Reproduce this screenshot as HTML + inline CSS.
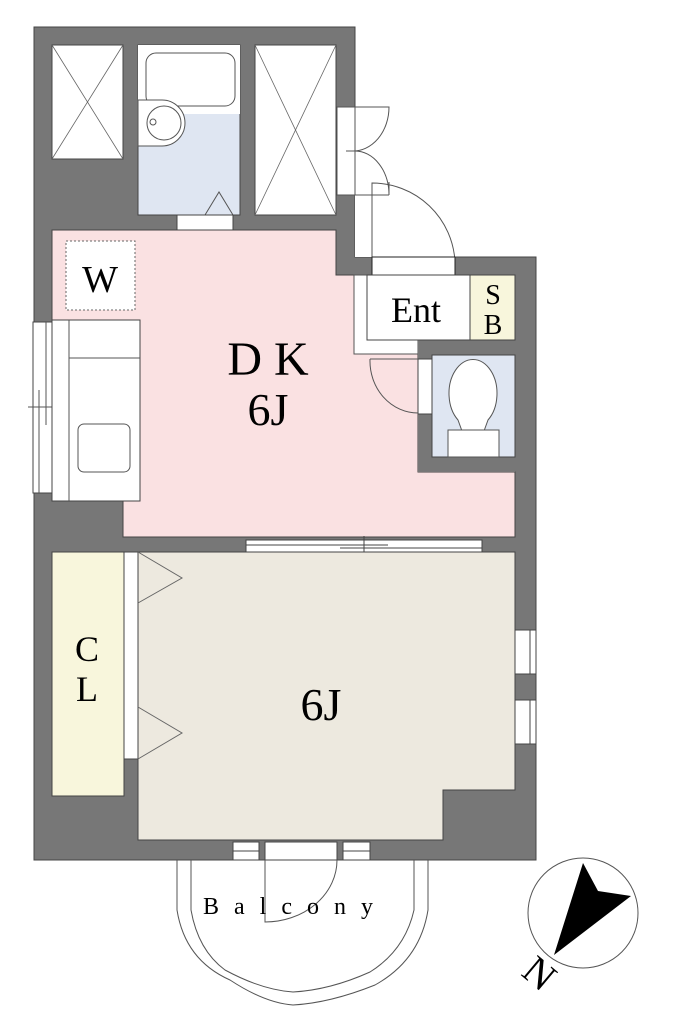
<!DOCTYPE html>
<html><head><meta charset="utf-8"><style>html,body{margin:0;padding:0;background:#fff}svg{display:block}</style></head>
<body>
<svg width="685" height="1024" viewBox="0 0 685 1024" xmlns="http://www.w3.org/2000/svg" font-family="Liberation Serif, serif">
<polygon points="34,27 355,27 355,257 536,257 536,860 34,860" fill="#777" stroke="#444" stroke-width="1"/>
<rect x="355" y="195" width="100" height="62" fill="#fff"/>
<rect x="337" y="107" width="18" height="88" fill="#fff" stroke="#555" stroke-width="1"/>
<path d="M355,107 L389,107 A36,44 0 0 1 352,151 M346,151 L355,151 A34,44 0 0 1 389,195 L389,182 M355,195 L389,195" fill="none" stroke="#555" stroke-width="1"/>
<path d="M372,257 L372,183 A83,83 0 0 1 455,262" fill="none" stroke="#555" stroke-width="1"/>
<rect x="372" y="257" width="83" height="18" fill="#fff" stroke="#222" stroke-width="1"/>
<rect x="52" y="45" width="71" height="114" fill="#fff" stroke="#444"/>
<path d="M52,45 L123,159 M123,45 L52,159" stroke="#666" stroke-width="0.8"/>
<rect x="255" y="45" width="81" height="170" fill="#fff" stroke="#444"/>
<path d="M255,45 L336,215 M336,45 L255,215" stroke="#666" stroke-width="0.8"/>
<rect x="138" y="45" width="102" height="170" fill="#dfe6f2" stroke="#444"/>
<rect x="138" y="45" width="102" height="69" fill="#fff"/>
<rect x="146" y="53" width="89" height="53" rx="10" fill="#fff" stroke="#555"/>
<path d="M138,100 L162,100 A22,22 0 0 1 162,146 L138,146 Z" fill="#fff" stroke="#555"/>
<circle cx="164" cy="123" r="17" fill="#fff" stroke="#555"/>
<circle cx="153" cy="122" r="3" fill="#fff" stroke="#555"/>
<path d="M205,215 L219,192 L233,215" fill="none" stroke="#555"/>
<rect x="177" y="215" width="56" height="15" fill="#fff" stroke="#444"/>
<polygon points="52,230 336,230 336,275 418,275 418,472 515,472 515,537 123,537 123,495 52,495" fill="#fae1e2" stroke="#444"/>
<rect x="354" y="275" width="64" height="79" fill="#fff" stroke="#555"/>
<rect x="418" y="340" width="97" height="132" fill="#777"/>
<rect x="367" y="275" width="103" height="65" fill="#fff" stroke="#444"/>
<rect x="470" y="275" width="45" height="65" fill="#f8f6dc" stroke="#444"/>
<text x="416" y="322" font-size="36" text-anchor="middle">Ent</text>
<text x="493" y="304" font-size="28" text-anchor="middle">S</text>
<text x="493" y="334" font-size="28" text-anchor="middle">B</text>
<rect x="432" y="355" width="83" height="102" fill="#dfe6f2" stroke="#444"/>
<path d="M458,420 A24,34 0 1 1 488,420 L484,431 L462,431 Z" fill="#fff" stroke="#555"/>
<rect x="448" y="430" width="51" height="27" fill="#fff" stroke="#555"/>
<rect x="418" y="359" width="14" height="55" fill="#fff" stroke="#444"/>
<path d="M370,359 L418,359 M370,359 A48,52 0 0 0 418,413" fill="none" stroke="#555"/>
<rect x="66" y="241" width="69" height="69" fill="#fff" stroke="#666" stroke-dasharray="2,2"/>
<text x="100" y="292" font-size="38" text-anchor="middle">W</text>
<rect x="33" y="322" width="19" height="171" fill="#fff" stroke="#444"/>
<path d="M46,322 L46,425 M39,390 L39,493 M28,407 L58,407" stroke="#555"/>
<rect x="52" y="320" width="88" height="181" fill="#fff" stroke="#444"/>
<path d="M69,320 L69,501 M69,358 L140,358" stroke="#555"/>
<rect x="78" y="424" width="52" height="48" rx="6" fill="#fff" stroke="#555"/>
<text x="268" y="375" font-size="48" text-anchor="middle">D K</text>
<text x="268" y="425" font-size="46" text-anchor="middle">6J</text>
<rect x="246" y="540" width="236" height="12" fill="#fff" stroke="#444"/>
<path d="M246,545 L388,545 M340,548 L482,548 M364,536 L364,557" stroke="#444"/>
<polygon points="138,552 515,552 515,790 443,790 443,840 138,840" fill="#ede9df" stroke="#444"/>
<rect x="52" y="552" width="72" height="244" fill="#f8f6dc" stroke="#444"/>
<rect x="124" y="552" width="14" height="207" fill="#fff" stroke="#444"/>
<path d="M138,552 L182,578 L138,603 M138,707 L182,733 L138,759" fill="none" stroke="#666"/>
<text x="87" y="661" font-size="36" text-anchor="middle">C</text>
<text x="87" y="701" font-size="36" text-anchor="middle">L</text>
<text x="321" y="720" font-size="46" text-anchor="middle">6J</text>
<rect x="515" y="630" width="21" height="44" fill="#fff" stroke="#444"/>
<rect x="515" y="700" width="21" height="44" fill="#fff" stroke="#444"/>
<path d="M530,630 L530,674 M530,700 L530,744" stroke="#444"/>
<rect x="233" y="842" width="26" height="18" fill="#fff" stroke="#444"/>
<rect x="343" y="842" width="27" height="18" fill="#fff" stroke="#444"/>
<path d="M233,851 L259,851 M343,851 L370,851" stroke="#444"/>
<rect x="265" y="842" width="72" height="18" fill="#fff" stroke="#444"/>
<path d="M177,860 L177,910 Q185,960 230,980 Q265,1003 293,1005 Q330,1003 375,985 Q420,960 428,910 L428,860" fill="none" stroke="#555"/>
<path d="M191,860 L191,910 Q198,950 225,970 Q262,990 293,992 Q330,990 370,972 Q405,950 414,910 L414,860" fill="none" stroke="#555"/>
<path d="M265,860 L265,922 A72,62 0 0 0 337,860" fill="none" stroke="#555"/>
<text x="203" y="914" font-size="24" letter-spacing="15">Balcony</text>
<circle cx="583" cy="913" r="55" fill="#fff" stroke="#555"/>
<polygon points="583,863 598,891 631,896 554,955" fill="#000"/>
<text x="540" y="987" font-size="40" text-anchor="middle" transform="rotate(40 540 973)">N</text>
</svg>
</body></html>
